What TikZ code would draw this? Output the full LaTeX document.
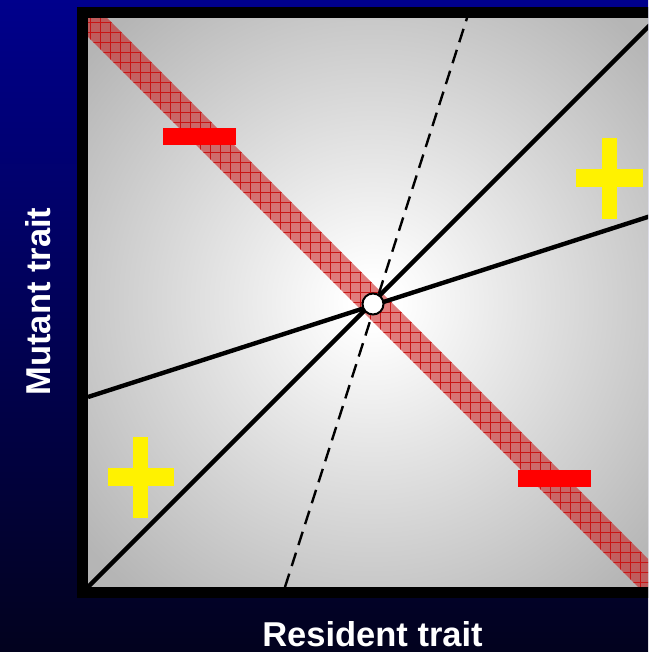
\documentclass[tikz,border=0pt]{standalone}
\usepackage{fontspec}
\newfontfamily\labelfont{Liberation Sans}
\usetikzlibrary{patterns.meta}

\definecolor{skytop}{RGB}{0,0,140}
\definecolor{skybottom}{RGB}{2,2,30}
\definecolor{bandred}{RGB}{200,20,20}
\pgfdeclareradialshading{glow}{\pgfpoint{0bp}{0bp}}{color(0bp)=(white); color(2bp)=(white); color(33bp)=(gray!58); color(50bp)=(gray!63)}

\begin{document}
\begin{tikzpicture}[x=1pt, y=-1pt,
    trait/.style={text=white, inner sep=0pt, font=\labelfont\bfseries\fontsize{34.5}{40}\selectfont},
    isocline/.style={line width=4.4pt},
    plusbar/.style={fill=yellow},
    minusbar/.style={fill=red}]
    % Background
    \useasboundingbox[shade, top color=skytop, bottom color=skybottom] (0,0) rectangle (648,652);
    \clip (0,0) rectangle (648,652);

    % Plot area
    \shade[shading=glow] (88,18) rectangle (657,587);

    % Band along the anti-diagonal
    \coordinate (b1) at (88,18);
    \coordinate (b2) at (107,18);
    \coordinate (b3) at (657,568);
    \coordinate (b4) at (657,587);
    \coordinate (b5) at (638,587);
    \coordinate (b6) at (88,37);
    \fill[bandred, opacity=0.55] (b1) -- (b2) -- (b3) -- (b4) -- (b5) -- (b6) -- cycle;
    \fill[pattern={Hatch[angle=0, distance=10pt, line width=0.8pt]}, pattern color=bandred]
        (b1) -- (b2) -- (b3) -- (b4) -- (b5) -- (b6) -- cycle;

    % Lines through the singular point
    \coordinate (diag-lo) at (88,587);
    \coordinate (diag-hi) at (657,18);
    \coordinate (flat-lo) at (88,397);
    \coordinate (flat-hi) at (657,214);
    \coordinate (steep-lo) at (285,587);
    \coordinate (steep-hi) at (467,18);
    \begin{scope}
        \clip (88,18) rectangle (657,587);
        \draw[isocline] (diag-lo) -- (diag-hi);
        \draw[isocline] (flat-lo) -- (flat-hi);
        \draw[line width=2.4pt, dash pattern=on 14pt off 8pt] (steep-lo) -- (steep-hi);
    \end{scope}

    % Frame
    \draw[line width=11pt] (82.5,12.5) rectangle (662.5,592.5);

    % Signs
    \fill[minusbar] (163,128) rectangle (236,145);
    \fill[minusbar] (518,470) rectangle (591,487);
    \fill[plusbar] (602,138) rectangle (617,219);
    \fill[plusbar] (576,169) rectangle (643,187);
    \fill[plusbar] (133,437) rectangle (148,518);
    \fill[plusbar] (108,468) rectangle (174,486);

    % Point
    \node[circle, draw, line width=2pt, fill=white, minimum size=21pt, inner sep=0pt] (ess) at (373,304) {};

    % Labels
    \node[trait, anchor=base] (resident) at (372.5,646) {Resident trait};
    \node[trait, anchor=base, rotate=90] (mutant) at (50,301.5) {Mutant trait};
\end{tikzpicture}
\end{document}
